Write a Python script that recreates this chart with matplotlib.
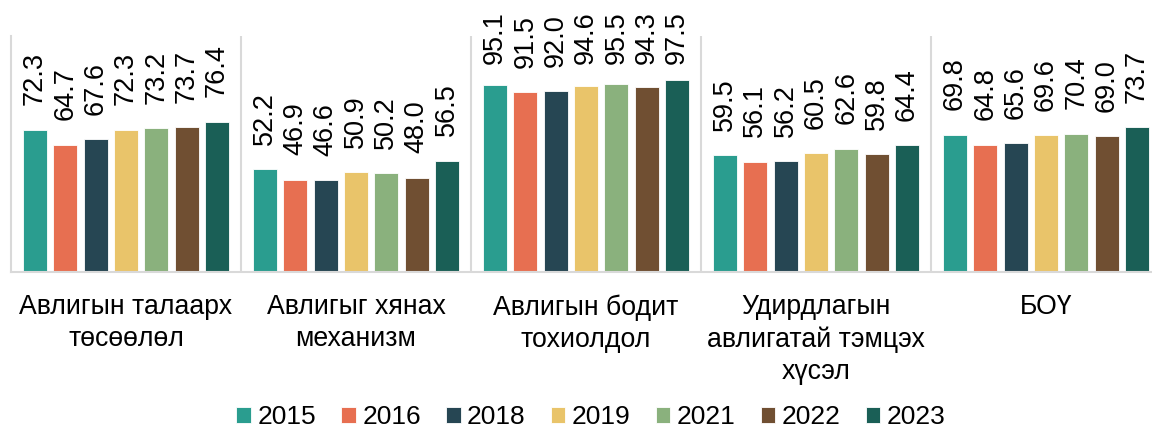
import numpy as np
import matplotlib.pyplot as plt

plt.rcParams['font.family'] = ['Liberation Sans', 'DejaVu Sans']

categories = ["Авлигын талаарх\nтөсөөлөл", "Авлигыг хянах\nмеханизм",
              "Авлигын бодит\nтохиолдол", "Удирдлагын\nавлигатай тэмцэх\nхүсэл", "БОҮ"]
years = ["2015", "2016", "2018", "2019", "2021", "2022", "2023"]
values = {
    "2015": [72.3, 52.2, 95.1, 59.5, 69.8],
    "2016": [64.7, 46.9, 91.5, 56.1, 64.8],
    "2018": [67.6, 46.6, 92.0, 56.2, 65.6],
    "2019": [72.3, 50.9, 94.6, 60.5, 69.6],
    "2021": [73.2, 50.2, 95.5, 62.6, 70.4],
    "2022": [73.7, 48.0, 94.3, 59.8, 69.0],
    "2023": [76.4, 56.5, 97.5, 64.4, 73.7],
}
colors = ["#2A9D8F", "#E76F51", "#264653", "#E9C46A", "#8AB17D", "#704F32", "#1A5F56"]

fig = plt.figure(figsize=(11.52, 4.30), dpi=100)
ax = fig.add_axes([11/1152, 158/430, 1141/1152, 236/430])

x = np.arange(len(categories))
step = 0.132
width = 0.104
for i, yr in enumerate(years):
    pos = x + (i - 3) * step
    ax.bar(pos, values[yr], width, color=colors[i], label=yr,
           edgecolor='white', linewidth=0.6)
    for px, v in zip(pos, values[yr]):
        ax.text(px, min(v + 12.4, 106.0), f"{v:.1f}", rotation=90,
                ha='center', va='bottom', fontsize=19.5, color='black')

ax.set_ylim(0, 120)
ax.set_xlim(-0.5, -0.5 + 1141/230)
for b in np.arange(0.5, len(categories) - 0.5, 1):
    ax.axvline(b, color='#d9d9d9', linewidth=1.5, zorder=0)

for s in ['top', 'right']:
    ax.spines[s].set_visible(False)
ax.spines['left'].set_color('#d9d9d9')
ax.spines['left'].set_linewidth(1.5)
ax.spines['bottom'].set_color('#d9d9d9')
ax.spines['bottom'].set_linewidth(1.5)
ax.set_yticks([])
ax.set_xticks(x)
ax.set_xticklabels(categories, fontsize=19.2, linespacing=1.3)
ax.tick_params(axis='x', length=0, pad=16)

fig.legend(loc='center', bbox_to_anchor=(591/1152, 13/430), ncol=7, frameon=False,
           fontsize=19, handlelength=0.55, handleheight=0.55,
           handletextpad=0.25, columnspacing=0.95, borderpad=0.2)

fig.savefig("out.png", dpi=100)
